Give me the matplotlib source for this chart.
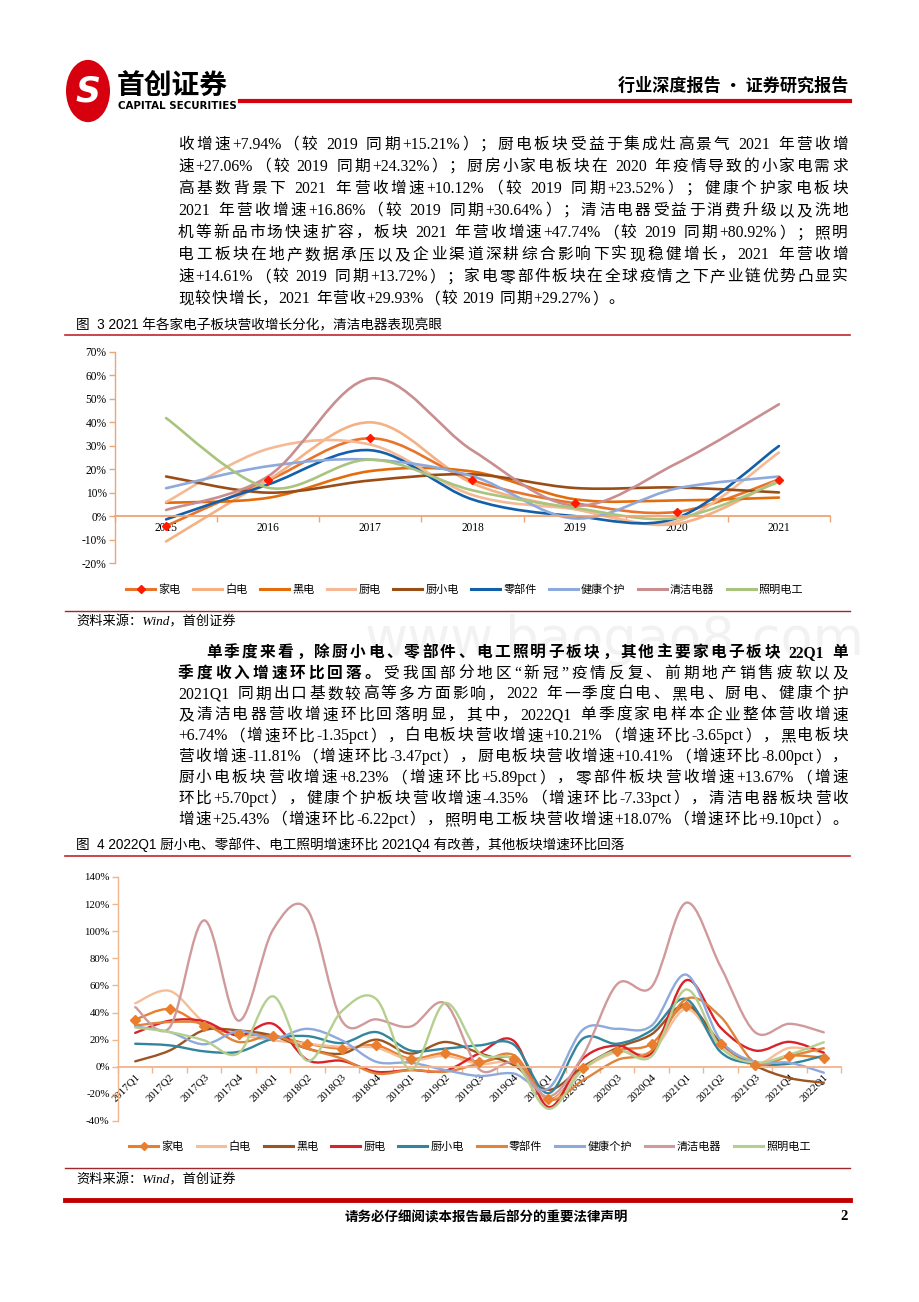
import re
import numpy as np
import matplotlib
matplotlib.use('Agg')
import matplotlib.pyplot as plt
from matplotlib.path import Path
from matplotlib.patches import PathPatch, Circle
from matplotlib.lines import Line2D

plt.rcParams['font.family'] = ['Liberation Serif', 'Noto Sans CJK SC']

# ---------------- data ----------------
series_names = ['家电', '白电', '黑电', '厨电', '厨小电', '零部件', '健康个护', '清洁电器', '照明电工']

years = ['2015', '2016', '2017', '2018', '2019', '2020', '2021']
y_jiadian = [-4.2, 15.2, 33.2, 15.2, 5.5, 1.8, 15.6]
y_baidian = [-10.8, 15.5, 40.0, 14.0, 3.0, -3.3, 15.3]
y_heidian = [5.7, 7.8, 19.2, 19.0, 7.2, 6.7, 7.9]
y_chudian = [6.0, 28.7, 30.5, 9.0, 3.0, -2.2, 27.1]
y_chuxiao = [16.9, 10.0, 15.2, 17.8, 12.0, 12.2, 10.1]
y_lingbu = [-1.4, 13.5, 28.1, 7.1, 0.0, -0.8, 29.9]
y_jiankang = [11.9, 21.3, 24.1, 17.0, -1.0, 11.8, 16.9]
y_qingjie = [2.6, 17.0, 58.7, 28.0, 4.5, 22.5, 47.7]
y_zhaoming = [41.8, 12.1, 24.1, 11.0, 3.5, -0.8, 14.6]

quarters = ['2017Q1', '2017Q2', '2017Q3', '2017Q4', '2018Q1', '2018Q2', '2018Q3',
            '2018Q4', '2019Q1', '2019Q2', '2019Q3', '2019Q4', '2020Q1', '2020Q2',
            '2020Q3', '2020Q4', '2021Q1', '2021Q2', '2021Q3', '2021Q4', '2022Q1']
q_jiadian = [34.8, 42.6, 30.4, 24.0, 23.0, 17.0, 13.4, 15.8, 6.0, 10.0, 3.7,
             6.0, -24.0, -1.0, 12.0, 17.0, 45.0, 17.0, 1.2, 8.1, 6.7]
q_baidian = [46.8, 56.0, 33.0, 24.0, 19.5, 17.0, 14.6, 14.0, 5.0, 8.0, 2.0,
             2.0, -25.0, -2.0, 11.0, 11.0, 42.6, 14.6, 1.7, 13.9, 10.2]
q_heidian = [4.0, 12.0, 27.0, 26.8, 23.0, 13.4, 9.7, 20.0, 9.7, 18.3, 10.0,
             1.2, -17.0, 0.0, 14.0, 24.0, 46.0, 18.0, 1.0, -8.3, -11.8]
q_chudian = [25.0, 34.0, 33.6, 23.0, 31.7, 5.0, 4.4, -3.7, -2.4, -3.0, 10.0,
             19.0, -29.7, 6.0, 15.8, 10.0, 63.8, 29.0, 12.0, 18.4, 10.4]
q_chuxiao = [17.0, 15.8, 11.4, 11.0, 20.7, 22.6, 17.5, 25.6, 12.0, 13.4, 15.8,
             16.3, -19.5, 20.7, 17.0, 27.0, 50.0, 11.0, 2.4, 2.3, 8.2]
q_lingbu = [30.4, 33.0, 31.7, 18.3, 23.0, 13.4, 6.0, -5.0, -2.4, -3.7, 2.4,
            8.5, -24.0, -10.0, 5.0, 12.0, 50.0, 37.0, 3.0, 8.0, 13.7]
q_jiankang = [29.7, 25.6, 16.6, 26.3, 20.7, 28.0, 19.5, 3.7, 3.0, -2.4, -6.8,
              -5.0, -16.0, 27.3, 28.0, 30.4, 68.0, 19.5, 3.7, 3.0, -4.35]
q_qingjie = [44.0, 29.0, 108.0, 34.0, 101.0, 116.0, 34.0, 35.0, 29.7, 46.8, -2.0,
             3.0, -22.0, 8.0, 61.0, 59.0, 121.0, 74.0, 25.6, 31.7, 25.4]
q_zhaoming = [29.0, 25.6, 19.5, 10.0, 52.0, 4.4, 41.0, 50.0, -2.0, 47.0, 10.0,
              5.0, -31.0, -2.0, 12.0, 7.8, 57.0, 14.6, 3.0, 9.0, 18.1]

colors1 = ['#E8732B', '#F4B183', '#E46C0A', '#F5BA95', '#9A4D17',
           '#135FAA', '#8EA9DB', '#C98E90', '#A9C47F']
colors2 = ['#E87E2E', '#F6BE98', '#9B5523', '#D9222A', '#31859C',
           '#E0843A', '#8EA9DB', '#D09A9C', '#B5CF8F']

# ---------------- helpers ----------------
W, H = 920, 1302
fig = plt.figure(figsize=(9.2, 13.02), dpi=100)


def fx(x):
    return x / W


def fy(y):
    return 1 - y / H


def smooth_path(x, y):
    # Excel-like smoothed line: cubic Bezier segments (Catmull-Rom control points)
    pts = np.column_stack([x, y]).astype(float)
    ext = np.vstack([pts[0], pts, pts[-1]])
    verts = [pts[0]]
    codes = [Path.MOVETO]
    for i in range(len(pts) - 1):
        p0, p1, p2, p3 = ext[i], ext[i + 1], ext[i + 2], ext[i + 3]
        verts += [p1 + (p2 - p0) / 6, p2 - (p3 - p1) / 6, p2]
        codes += [Path.CURVE4] * 3
    return Path(verts, codes)


def style_axes(ax, n, ylo, yhi, step, labels, axcolor, lsize, rot):
    ax.set_xlim(-0.5, n - 0.5)
    ax.set_ylim(ylo, yhi)
    ax.patch.set_alpha(0)
    for s in ['top', 'right']:
        ax.spines[s].set_visible(False)
    ax.spines['bottom'].set_position(('data', 0))
    ax.spines['bottom'].set_color(axcolor)
    ax.spines['left'].set_color(axcolor)
    ax.spines['bottom'].set_linewidth(1.3)
    ax.spines['left'].set_linewidth(1.0)
    ticks = np.arange(ylo, yhi + 1, step)
    ax.set_yticks(ticks)
    ax.set_yticklabels([f'{t}%' for t in ticks])
    ax.tick_params(axis='y', color=axcolor, labelcolor='black', length=4,
                   width=1, labelsize=lsize, pad=2)
    ax.set_xticks(np.arange(-0.5, n, 1.0))
    ax.set_xticklabels([])
    ax.set_xticks(np.arange(n), minor=True)
    if rot:
        ax.set_xticklabels(labels, minor=True, rotation=45, ha='right',
                           rotation_mode='anchor')
    else:
        ax.set_xticklabels(labels, minor=True)
    ax.tick_params(axis='x', which='major', color=axcolor, length=4, width=1)
    ax.tick_params(axis='x', which='minor', length=0, labelsize=lsize,
                   pad=4)


renderer = fig.canvas.get_renderer()
_wc = {}


def tok_width(tok, size, weight):
    key = (tok, size, weight)
    if key not in _wc:
        t = fig.text(0, 0, tok, fontsize=size, fontweight=weight)
        _wc[key] = t.get_window_extent(renderer).width
        t.remove()
    return _wc[key]


def draw_line(segs, x0, x1, y, size, justify=True):
    toks = []
    for s, wgt in segs:
        for t in re.findall(r'[A-Za-z0-9.+\-%]+|\s|.', s):
            toks.append((t, wgt))
    em = size * 100 / 72
    widths = [0.25 * em if t == ' ' else tok_width(t, size, wgt) for t, wgt in toks]
    gap = (x1 - x0 - sum(widths)) / (len(toks) - 1) if justify else 0.06 * em
    x = x0
    for (t, wgt), w in zip(toks, widths):
        if t != ' ':
            fig.text(fx(x), fy(y + 0.36 * em), t, fontsize=size, fontweight=wgt,
                     va='baseline', ha='left')
        x += w + gap


# ---------------- header ----------------
fig.patches.append(Circle((fx(88), fy(91)), 22 / W, transform=fig.transFigure,
                          fc='#D7000F', ec='none'))
fig.text(fx(88), fy(92), 'S', color='white', fontsize=25, fontweight='bold',
         family='DejaVu Sans', ha='center', va='center', style='italic')
fig.text(fx(117), fy(86), '首创证券', fontsize=20, fontweight='bold',
         family='Noto Sans CJK SC', ha='left', va='center')
fig.text(fx(118), fy(106), 'CAPITAL SECURITIES', fontsize=7.4, fontweight='bold',
         family='DejaVu Sans', ha='left', va='center')
fig.add_artist(Line2D([fx(240), fx(850)], [fy(101), fy(101)], color='#D7000F', lw=3))
fig.text(fx(848), fy(86), '行业深度报告 · 证券研究报告', fontsize=12.3,
         fontweight='bold', family='Noto Sans CJK SC', ha='right', va='center')

# ---------------- paragraph 1 ----------------
BODY = 11.3
L, R = 178, 848
para1 = [
    '收增速+7.94%（较 2019 同期+15.21%）；厨电板块受益于集成灶高景气 2021 年营收增',
    '速+27.06%（较 2019 同期+24.32%）；厨房小家电板块在 2020 年疫情导致的小家电需求',
    '高基数背景下 2021 年营收增速+10.12%（较 2019 同期+23.52%）；健康个护家电板块',
    '2021 年营收增速+16.86%（较 2019 同期+30.64%）；清洁电器受益于消费升级以及洗地',
    '机等新品市场快速扩容，板块 2021 年营收增速+47.74%（较 2019 同期+80.92%）；照明',
    '电工板块在地产数据承压以及企业渠道深耕综合影响下实现稳健增长，2021 年营收增',
    '速+14.61%（较 2019 同期+13.72%）；家电零部件板块在全球疫情之下产业链优势凸显实',
    '现较快增长，2021 年营收+29.93%（较 2019 同期+29.27%）。',
]
for i, line in enumerate(para1):
    draw_line([(line, 'light')], L, R, 143 + i * 22.1, BODY,
              justify=(i < len(para1) - 1))

# ---------------- figure 3 ----------------
fig.text(fx(76), fy(325), '图  3 2021 年各家电子板块营收增长分化，清洁电器表现亮眼',
         fontsize=9.8, family=['Liberation Sans', 'Noto Sans CJK SC'],
         ha='left', va='center')
fig.add_artist(Line2D([fx(65), fx(850)], [fy(335), fy(335)], color='#C0262D', lw=1.2))

ax1 = fig.add_axes([fx(115), fy(563), (830 - 115) / W, (563 - 352) / H])
style_axes(ax1, len(years), -20, 70, 10, years, '#EFA473', 8.3, False)
xs1 = np.arange(len(years))
data1 = [y_jiadian, y_baidian, y_heidian, y_chudian, y_chuxiao,
         y_lingbu, y_jiankang, y_qingjie, y_zhaoming]
for k, (vals, c) in enumerate(zip(data1, colors1)):
    ax1.add_patch(PathPatch(smooth_path(xs1, vals), fc='none', ec=c, lw=1.9,
                            capstyle='round', zorder=2 + k * 0.01))
ax1.plot(xs1, y_jiadian, ls='none', marker='D', ms=4.5, color='#FF1A00', zorder=5)

h1 = [Line2D([], [], color=c, lw=2.2) for c in colors1]
h1[0] = Line2D([], [], color=colors1[0], lw=2.2, marker='D', ms=4,
               mfc='#FF1A00', mec='#FF1A00')
fig.legend(h1, series_names, ncol=9, loc='center', bbox_to_anchor=(fx(465), fy(590)),
           frameon=False, handlelength=2.6, handletextpad=0.3,
           columnspacing=1.1, prop={'family': 'Noto Sans CJK SC', 'size': 8})

fig.add_artist(Line2D([fx(65), fx(850)], [fy(611), fy(611)], color='#A0282D', lw=1.0))
fig.text(fx(76), fy(622), '资料来源：Wind，首创证券', fontsize=9.5, style='italic',
         ha='left', va='center')

# watermark
fig.text(fx(615), fy(640), 'www.baogao8.com', fontsize=38, color='#C8C8C8',
         alpha=0.22, family='DejaVu Sans', ha='center', va='center', zorder=0)

# ---------------- paragraph 2 ----------------
para2 = [
    [('单季度来看，除厨小电、零部件、电工照明子板块，其他主要家电子板块 22Q1 单', 'bold')],
    [('季度收入增速环比回落。', 'bold'),
     ('受我国部分地区“新冠”疫情反复、前期地产销售疲软以及', 'light')],
    [('2021Q1 同期出口基数较高等多方面影响，2022 年一季度白电、黑电、厨电、健康个护', 'light')],
    [('及清洁电器营收增速环比回落明显，其中，2022Q1 单季度家电样本企业整体营收增速', 'light')],
    [('+6.74%（增速环比-1.35pct），白电板块营收增速+10.21%（增速环比-3.65pct），黑电板块', 'light')],
    [('营收增速-11.81%（增速环比-3.47pct），厨电板块营收增速+10.41%（增速环比-8.00pct），', 'light')],
    [('厨小电板块营收增速+8.23%（增速环比+5.89pct），零部件板块营收增速+13.67%（增速', 'light')],
    [('环比+5.70pct），健康个护板块营收增速-4.35%（增速环比-7.33pct），清洁电器板块营收', 'light')],
    [('增速+25.43%（增速环比-6.22pct），照明电工板块营收增速+18.07%（增速环比+9.10pct）。', 'light')],
]
for i, segs in enumerate(para2):
    draw_line(segs, 206 if i == 0 else L, R, 651 + i * 20.9, BODY)

# ---------------- figure 4 ----------------
fig.text(fx(76), fy(845),
         '图  4 2022Q1 厨小电、零部件、电工照明增速环比 2021Q4 有改善，其他板块增速环比回落',
         fontsize=9.8, family=['Liberation Sans', 'Noto Sans CJK SC'],
         ha='left', va='center')
fig.add_artist(Line2D([fx(65), fx(850)], [fy(856), fy(856)], color='#C0262D', lw=1.2))

ax2 = fig.add_axes([fx(118), fy(1121), (841 - 118) / W, (1121 - 877) / H])
style_axes(ax2, len(quarters), -40, 140, 20, quarters, '#F2B48A', 7.8, True)
xs2 = np.arange(len(quarters))
data2 = [q_jiadian, q_baidian, q_heidian, q_chudian, q_chuxiao,
         q_lingbu, q_jiankang, q_qingjie, q_zhaoming]
for k, (vals, c) in enumerate(zip(data2, colors2)):
    ax2.add_patch(PathPatch(smooth_path(xs2, vals), fc='none', ec=c, lw=1.7,
                            capstyle='round', zorder=2 + k * 0.01))
ax2.plot(xs2, q_jiadian, ls='none', marker='D', ms=4.8, color=colors2[0], zorder=3)

h2 = [Line2D([], [], color=c, lw=2.2) for c in colors2]
h2[0] = Line2D([], [], color=colors2[0], lw=2.2, marker='D', ms=4)
fig.legend(h2, series_names, ncol=9, loc='center', bbox_to_anchor=(fx(470), fy(1147)),
           frameon=False, handlelength=2.6, handletextpad=0.3,
           columnspacing=1.15, prop={'family': 'Noto Sans CJK SC', 'size': 8})

fig.add_artist(Line2D([fx(65), fx(850)], [fy(1168), fy(1168)], color='#A0282D', lw=1.0))
fig.text(fx(76), fy(1180), '资料来源：Wind，首创证券', fontsize=9.5, style='italic',
         ha='left', va='center')

# ---------------- footer ----------------
fig.add_artist(Line2D([fx(65), fx(850)], [fy(1200), fy(1200)], color='#C00000', lw=3.5))
fig.text(fx(486), fy(1217), '请务必仔细阅读本报告最后部分的重要法律声明', fontsize=9.7,
         fontweight='bold', family='Noto Sans CJK SC', ha='center', va='center')
fig.text(fx(848), fy(1217), '2', fontsize=10.5, fontweight='bold', ha='right', va='center')

fig.savefig('out.png', dpi=100)
